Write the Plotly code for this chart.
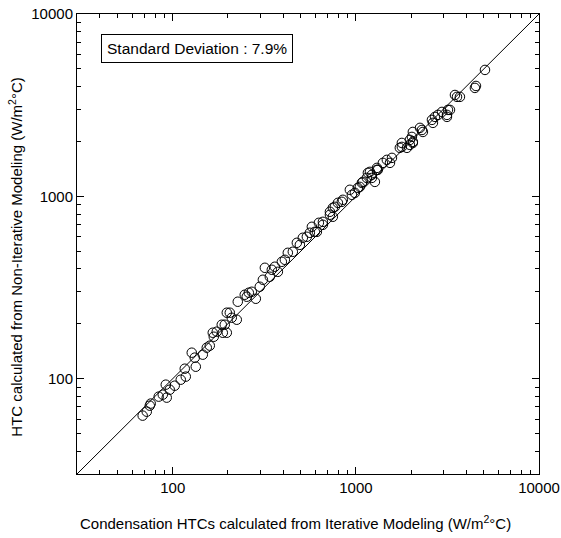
import math
import plotly.graph_objects as go

# Iterative-model HTC (x) vs non-iterative-model HTC (y), W/m2°C
htc_iterative = [
    68.5, 72.1, 74.9, 75.8, 83.8, 88.2, 92.7, 91.6, 96.3, 102.5,
    110.6, 117.8, 116.3, 127.0, 131.9, 133.6, 145.9, 153.4, 159.3, 165.4,
    167.5, 173.9, 187.6, 197.3, 192.3, 185.2, 197.3, 204.9, 210.0, 223.7,
    226.5, 247.3, 253.6, 260.2, 270.2, 284.2, 298.7, 310.5, 318.4, 338.8,
    347.5, 360.8, 375.0, 394.2, 409.4, 424.9, 452.5, 476.0, 494.4, 513.2,
    539.8, 560.5, 575.0, 597.0, 612.3, 627.8, 660.7, 660.7, 721.5, 721.5,
    748.5, 748.5, 767.5, 797.6, 838.0, 849.0, 927.0, 951.0, 987.5, 1025,
    1051, 1078, 1091, 1148, 1163, 1193, 1222, 1222, 1270, 1303,
    1318, 1303, 1404, 1476, 1535, 1574, 1738, 1783, 1783, 1900,
    1972, 1972, 2047, 2023, 2047, 2047, 2239, 2296, 2323, 2602,
    2635, 2703, 2808, 2951, 3143, 3143, 3183, 3265, 3475, 3566,
    3700, 4527, 4467, 5070,
]
htc_noniterative = [
    62.7, 65.9, 71.1, 73.0, 79.7, 81.7, 78.7, 92.7, 87.0, 91.5,
    98.7, 102.6, 113.4, 138.8, 130.4, 116.3, 135.4, 147.9, 151.7, 178.6,
    169.8, 181.0, 178.6, 178.6, 197.6, 197.6, 230.0, 230.0, 215.9, 210.5,
    264.2, 288.6, 281.5, 296.0, 299.6, 274.3, 319.3, 348.7, 405.6, 362.2,
    395.5, 411.0, 385.5, 437.5, 448.7, 490.0, 496.5, 556.0, 542.0, 592.5,
    600.0, 631.0, 680.6, 638.6, 638.6, 715.9, 724.7, 698.0, 792.6, 822.9,
    772.5, 865.0, 876.0, 921.0, 933.0, 957.0, 1086, 1019, 1045, 1113,
    1127, 1186, 1200, 1262, 1345, 1362, 1312, 1262, 1200, 1397,
    1397, 1432, 1526, 1585, 1526, 1625, 1845, 1867, 1963, 1845,
    1915, 2040, 1990, 2118, 2255, 1963, 2374, 2312, 2255, 2626,
    2529, 2727, 2797, 2904, 2727, 2797, 2978, 2978, 3597, 3512,
    3512, 4031, 3932, 4935,
]

axis_min = 30
axis_max = 10000
major_ticks = [100, 1000, 10000]
major_labels = ["100", "1000", "10000"]
minor_ticks = [40, 50, 60, 70, 80, 90,
               200, 300, 400, 500, 600, 700, 800, 900,
               2000, 3000, 4000, 5000, 6000, 7000, 8000, 9000]
std_text = "Standard Deviation : 7.9%"
x_title = "Condensation HTCs calculated from Iterative Modeling (W/m<sup>2</sup>°C)"
y_title = "HTC calculated from Non-Iterative Modeling (W/m<sup>2</sup>°C)"

font_family = "Liberation Sans, Arial, sans-serif"

fig = go.Figure()
fig.add_trace(go.Scatter(
    x=[axis_min, axis_max], y=[axis_min, axis_max], mode="lines",
    line=dict(color="black", width=1), hoverinfo="skip", showlegend=False,
))
fig.add_trace(go.Scatter(
    x=htc_iterative, y=htc_noniterative, mode="markers",
    marker=dict(symbol="circle-open", size=9.5, color="black",
                line=dict(color="black", width=1)),
    showlegend=False,
))

rng = [math.log10(axis_min), math.log10(axis_max)]

axis_common = dict(
    type="log", range=rng, tickmode="array", tickvals=major_ticks, ticktext=major_labels,
    showgrid=False, zeroline=False, showline=True, linecolor="black",
    linewidth=1, mirror="ticks", ticks="inside", ticklen=7, tickwidth=1,
    tickcolor="black", automargin=False,
    tickfont=dict(size=15, color="black", family=font_family),
    minor=dict(tickmode="array", tickvals=minor_ticks, ticks="inside", ticklen=4,
               tickwidth=1, tickcolor="black", showgrid=False),
)

fig.update_xaxes(**axis_common)
fig.update_yaxes(**axis_common)

fig.add_annotation(
    x=0.472, y=-0.1065, xref="paper", yref="paper", text=x_title, showarrow=False,
    xanchor="center", yanchor="middle",
    font=dict(size=15, color="black", family=font_family),
)
fig.add_annotation(
    x=-0.135, y=0.4717, xref="paper", yref="paper", text=y_title, showarrow=False,
    textangle=-90, xanchor="center", yanchor="middle",
    font=dict(size=15, color="black", family=font_family),
)

fig.add_annotation(
    x=0.26, y=0.924, xref="paper", yref="paper", text=std_text, showarrow=False,
    xanchor="center", yanchor="middle",
    font=dict(size=15.5, color="black", family=font_family),
    bordercolor="black", borderwidth=1, borderpad=5, bgcolor="white",
)

fig.update_layout(
    width=561, height=538,
    margin=dict(l=77, r=22, t=14, b=64),
    plot_bgcolor="white", paper_bgcolor="white",
    font=dict(family=font_family, color="black"),
)

fig.write_html("out.html", config={"displayModeBar": False},
               post_script="document.body.style.margin='0';")
